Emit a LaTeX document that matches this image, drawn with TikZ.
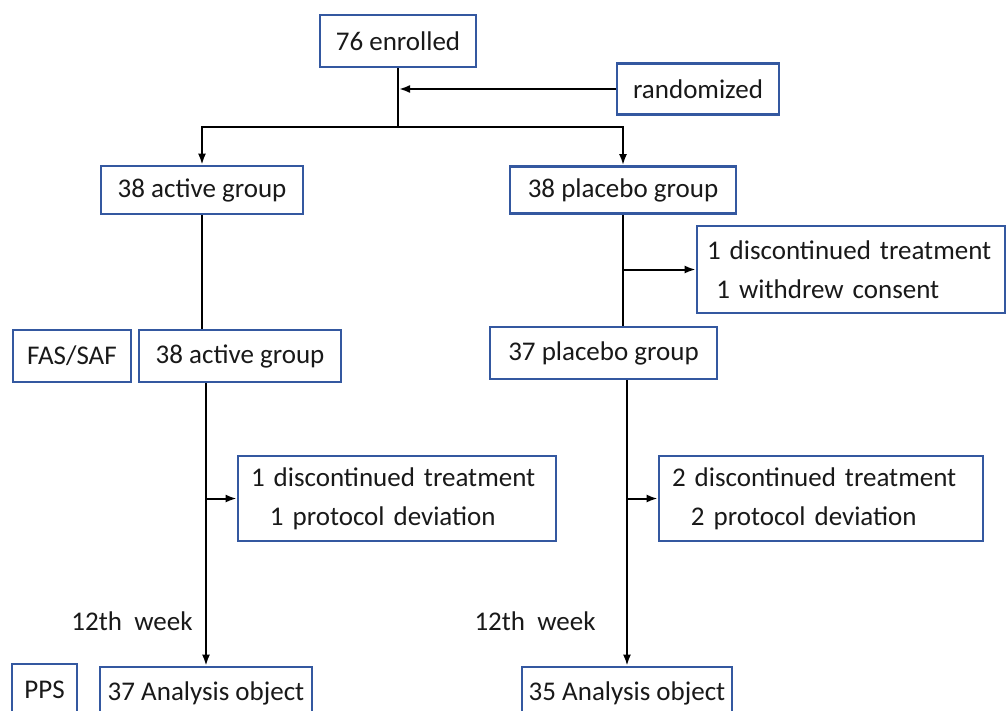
\documentclass[tikz,border=0pt]{standalone}
\usepackage{fontspec}
\setmainfont{Carlito}
\usetikzlibrary{arrows.meta}
\definecolor{boxblue}{RGB}{52,88,160}
\tikzset{
  bx/.style={draw=boxblue, line width=2.8pt, inner sep=0pt, align=center,
             font=\fontsize{27}{39}\selectfont, text=black!90},
  bxl/.style={bx, align=left},
  lbl/.style={inner sep=0pt, font=\fontsize{27}{39}\selectfont, text=black!90},
  conn/.style={line width=2pt, black},
  arr/.style={conn, -{Latex[length=11pt,width=8pt]}}
}
\begin{document}
\begin{tikzpicture}[x=1pt,y=-1pt]
\useasboundingbox (0,0) rectangle (1008,710);
\clip (0,0) rectangle (1008,710);
\fill[white] (0,0) rectangle (1008,710);

\node[bx, minimum width=156pt, minimum height=52pt] (en) at (398,41) {76 enrolled};
\node[bx, minimum width=162pt, minimum height=51pt] (rand) at (698,89) {randomized};
\node[bx, minimum width=202pt, minimum height=48pt] (a1) at (202,190) {38 active group};
\node[bx, minimum width=226pt, minimum height=47pt] (p1) at (623,190) {38 placebo group};
\node[bxl, minimum height=87pt, inner xsep=10pt, text width=288pt] (wd) at (851,269.5)
  {\hyphenpenalty=10000 1 discontinued treatment\\\hspace*{0.35em}1 withdrew consent};
\node[bx, minimum width=118pt, minimum height=52pt] (fas) at (72,356) {FAS/SAF};
\node[bx, minimum width=202pt, minimum height=52pt] (a2) at (240,356) {38 active group};
\node[bx, minimum width=227pt, minimum height=52pt] (p2) at (603.5,353) {37 placebo group};
\node[bxl, minimum height=85pt, inner xsep=13pt, text width=292pt] (d1) at (397,498.5)
  {\hyphenpenalty=10000 1 discontinued treatment\\\hspace*{0.7em}1 protocol deviation};
\node[bxl, minimum height=85pt, inner xsep=13pt, text width=298pt] (d2) at (821,498.5)
  {\hyphenpenalty=10000 2 discontinued treatment\\\hspace*{0.7em}2 protocol deviation};
\node[bx, minimum width=65pt, minimum height=52pt] (pps) at (44.5,690) {PPS};
\node[bx, minimum width=212pt, minimum height=52pt] (an1) at (206,693) {37 Analysis object};
\node[bx, minimum width=210pt, minimum height=52pt] (an2) at (627,693) {35 Analysis object};
\node[lbl] (w1) at (132,621) {12th\ \ week};
\node[lbl] (w2) at (535,621) {12th\ \ week};

\coordinate (top) at (399,127);
\draw[conn] (en.south) -- (en.south |- top);
\draw[arr] (rand.west) -- (rand.west -| top);
\draw[arr] (top) -| (a1.north);
\draw[arr] (top) -| (p1.north);
\draw[conn] (a1.south) -- (a1.south |- a2.north);
\draw[arr] (an1.north |- a2.south) -- (an1.north);
\draw[arr] (an1.north |- d1.west) -- (d1.west);
\draw[conn] (p1.south) -- (p1.south |- p2.north);
\draw[arr] (p1.south |- wd.west) -- (wd.west);
\draw[arr] (an2.north |- p2.south) -- (an2.north);
\draw[arr] (an2.north |- d2.west) -- (d2.west);
\end{tikzpicture}
\end{document}
